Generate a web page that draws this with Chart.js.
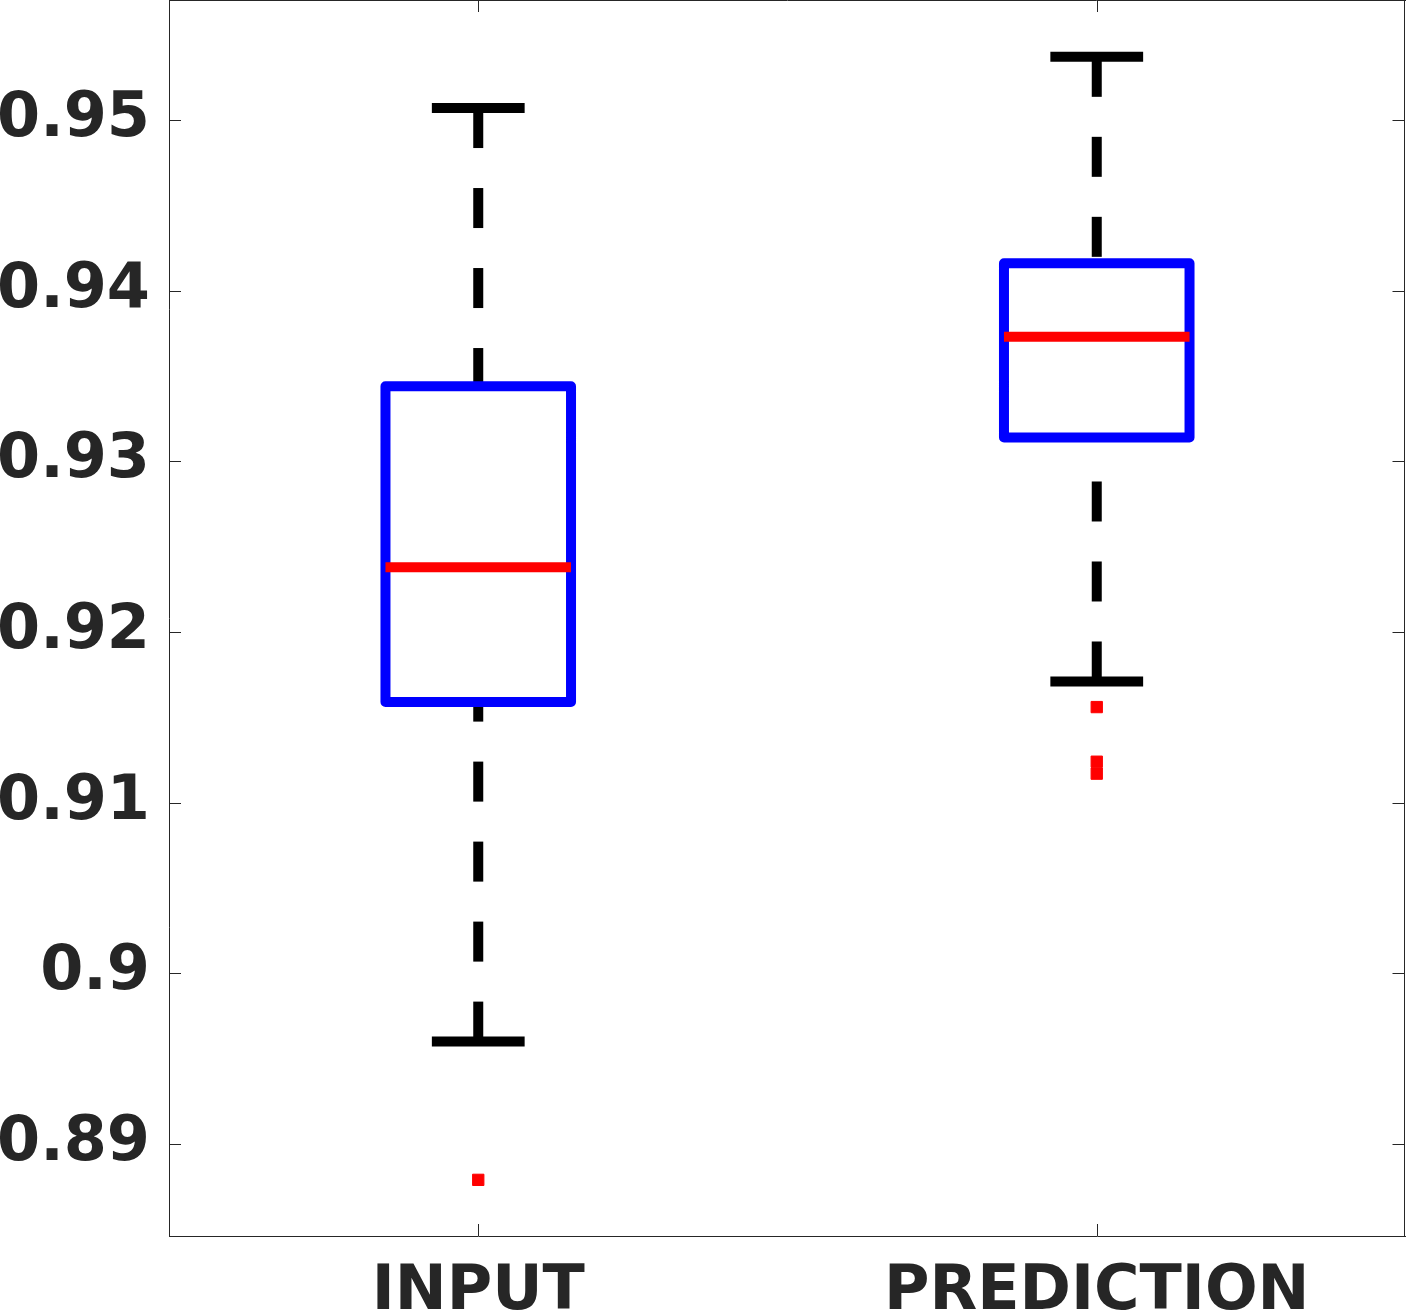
<!DOCTYPE html>
<html>
<head>
<meta charset="utf-8">
<title>Box plot</title>
<script src="https://cdn.jsdelivr.net/npm/chart.js@4.4.1/dist/chart.umd.min.js"></script>
<style>
  html, body { margin: 0; padding: 0; background: #fff; }
  canvas { display: block; }
</style>
</head>
<body>
<canvas id="boxChart" width="1406" height="1313"></canvas>
<script>
const categories = ["INPUT", "PREDICTION"];
const lowerWhisker = [0.8960, 0.9171];
const q1 = [0.9159, 0.9314];
const median = [0.9238, 0.9373];
const q3 = [0.9344, 0.9416];
const upperWhisker = [0.9507, 0.9537];
const outliers = [[0.8879], [0.9156, 0.9124, 0.9117]];
const yTicks = [0.89, 0.90, 0.91, 0.92, 0.93, 0.94, 0.95];

const boxHalf = 0.15;   // half box width, in category units
const capHalf = 0.075;
const axisColor = "#262626";
const tickLen = 12;
const labelFont = { family: "DejaVu Sans", size: 62, weight: "bold" };

// box outlines, one polyline per category, broken by a null point
const boxPoints = [];
const medianPoints = [];
const capPoints = [];
const outlierPoints = [];
categories.forEach((c, i) => {
  const x = i + 1;
  boxPoints.push(
    { x: x - boxHalf, y: q1[i] }, { x: x + boxHalf, y: q1[i] },
    { x: x + boxHalf, y: q3[i] }, { x: x - boxHalf, y: q3[i] },
    { x: x - boxHalf, y: q1[i] }, { x: x, y: null }
  );
  medianPoints.push({ x: x - boxHalf, y: median[i] }, { x: x + boxHalf, y: median[i] }, { x: x, y: null });
  capPoints.push(
    { x: x - capHalf, y: upperWhisker[i] }, { x: x + capHalf, y: upperWhisker[i] }, { x: x, y: null },
    { x: x - capHalf, y: lowerWhisker[i] }, { x: x + capHalf, y: lowerWhisker[i] }, { x: x, y: null }
  );
  outliers[i].forEach(v => outlierPoints.push({ x: x, y: v }));
});

function lineSet(data, color, width, extra) {
  return Object.assign({
    type: "line",
    data: data,
    borderColor: color,
    borderWidth: width,
    pointRadius: 0,
    pointHoverRadius: 0,
    fill: false,
    tension: 0,
    spanGaps: false,
    borderCapStyle: "butt",
    borderJoinStyle: "round"
  }, extra || {});
}

const datasets = [];
datasets.push({
  type: "scatter",
  data: outlierPoints,
  pointStyle: "rect",
  pointRadius: 8,
  pointBorderWidth: 1,
  backgroundColor: "#ff0000",
  borderColor: "#ff0000",
  showLine: false
});
datasets.push(lineSet(medianPoints, "#ff0000", 10));
datasets.push(lineSet(boxPoints, "#0000ff", 10));
datasets.push(lineSet(capPoints, "#000000", 10, { borderJoinStyle: "miter" }));
// whiskers drawn from the end toward the box, so the dash starts at the cap
categories.forEach((c, i) => {
  const x = i + 1;
  datasets.push(lineSet([{ x: x, y: upperWhisker[i] }, { x: x, y: q3[i] }], "#000000", 10, { borderDash: [40, 40] }));
  datasets.push(lineSet([{ x: x, y: lowerWhisker[i] }, { x: x, y: q1[i] }], "#000000", 10, { borderDash: [40, 40] }));
});

// no extra room for labels that hang over the ends of an axis
function noPadding(s) {
  s.paddingTop = 0;
  s.paddingBottom = 0;
  s.paddingLeft = 0;
  s.paddingRight = 0;
}

// closed frame with inward ticks, MATLAB style
const framePlugin = {
  id: "frame",
  afterDraw(chart) {
    const { ctx, chartArea: a, scales: { x, y } } = chart;
    ctx.save();
    ctx.strokeStyle = axisColor;
    ctx.lineWidth = 1;
    ctx.beginPath();
    ctx.moveTo(a.left, a.top + 0.5);
    ctx.lineTo(a.right, a.top + 0.5);
    ctx.moveTo(a.right - 1.5, a.top);
    ctx.lineTo(a.right - 1.5, a.bottom);
    y.ticks.forEach(t => {
      const py = Math.round(y.getPixelForValue(t.value)) + 0.5;
      ctx.moveTo(a.left, py);
      ctx.lineTo(a.left + tickLen, py);
      ctx.moveTo(a.right - 1.5, py);
      ctx.lineTo(a.right - 1.5 - tickLen, py);
    });
    x.ticks.forEach(t => {
      const px = Math.round(x.getPixelForValue(t.value)) + 0.5;
      ctx.moveTo(px, a.bottom);
      ctx.lineTo(px, a.bottom - tickLen);
      ctx.moveTo(px, a.top);
      ctx.lineTo(px, a.top + tickLen);
    });
    ctx.stroke();
    ctx.restore();
  }
};

new Chart(document.getElementById("boxChart"), {
  type: "line",
  data: { datasets: datasets },
  options: {
    responsive: false,
    animation: false,
    events: [],
    layout: { padding: 0, autoPadding: false },
    plugins: {
      legend: { display: false },
      tooltip: { enabled: false }
    },
    scales: {
      x: {
        type: "linear",
        min: 0.5,
        max: 2.5,
        afterBuildTicks: s => { s.ticks = categories.map((c, i) => ({ value: i + 1 })); },
        afterFit: s => { s.height = 77; noPadding(s); },
        ticks: {
          callback: v => categories[v - 1],
          font: labelFont,
          color: axisColor,
          padding: 20,
          maxRotation: 0,
          autoSkip: false
        },
        grid: { display: false, drawTicks: false },
        border: { display: true, color: axisColor, width: 1 }
      },
      y: {
        type: "linear",
        min: 0.88461,
        max: 0.95703,
        afterBuildTicks: s => { s.ticks = yTicks.map(v => ({ value: v })); },
        afterFit: s => { s.width = 169; noPadding(s); },
        ticks: {
          callback: v => String(Number(v.toFixed(2))),
          font: labelFont,
          color: axisColor,
          padding: 19
        },
        grid: { display: false, drawTicks: false },
        border: { display: true, color: axisColor, width: 1 }
      }
    }
  },
  plugins: [framePlugin]
});
</script>
</body>
</html>
